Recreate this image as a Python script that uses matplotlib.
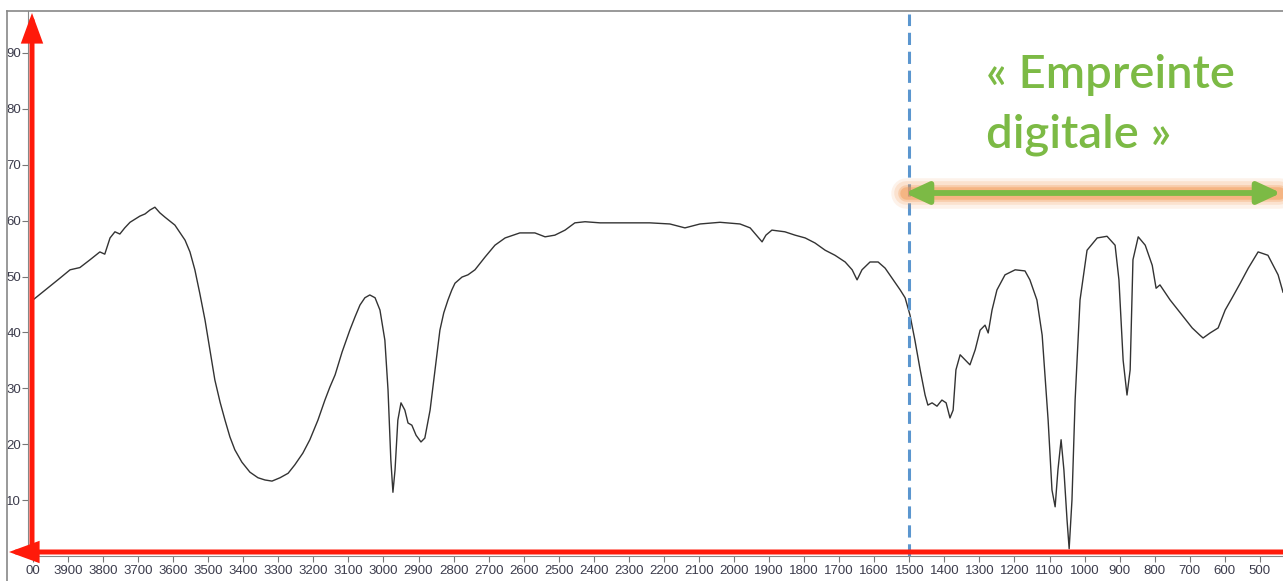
import matplotlib.pyplot as plt
from matplotlib.lines import Line2D
from matplotlib.patches import FancyArrowPatch

# --- Données du spectre IR (nombre d'onde en cm-1, transmittance en %) ---
nombre_onde = [4000, 3923, 3894, 3866, 3837, 3809, 3795, 3780, 3766, 3752, 3738, 3723,
               3695, 3680, 3666, 3652, 3638, 3623, 3595, 3566, 3552, 3538, 3524, 3509,
               3495, 3481, 3466, 3452, 3438, 3424, 3404, 3381, 3358, 3338, 3318, 3295,
               3272, 3253, 3230, 3210, 3187, 3167, 3153, 3138, 3118, 3096, 3081, 3067,
               3053, 3039, 3024, 3010, 2996, 2987, 2979, 2973, 2967, 2959, 2950, 2939,
               2930, 2919, 2907, 2893, 2882, 2867, 2853, 2839, 2828, 2816, 2805, 2796,
               2776, 2759, 2739, 2710, 2682, 2653, 2611, 2568, 2539, 2511, 2482, 2454,
               2425, 2382, 2325, 2240, 2183, 2140, 2097, 2040, 1983, 1954, 1932, 1920,
               1909, 1892, 1855, 1826, 1797, 1769, 1740, 1712, 1683, 1663, 1649, 1635,
               1612, 1589, 1569, 1546, 1526, 1512, 1498, 1484, 1469, 1455, 1447, 1435,
               1421, 1407, 1395, 1384, 1375, 1367, 1355, 1341, 1327, 1312, 1298, 1284,
               1275, 1264, 1250, 1227, 1198, 1170, 1156, 1136, 1121, 1104, 1093, 1084,
               1076, 1067, 1059, 1050, 1044, 1036, 1027, 1013, 993, 964, 936, 913, 902,
               890, 879, 870, 862, 847, 827, 807, 796, 785, 756, 727, 693, 671, 662, 642,
               619, 599, 579, 556, 533, 505, 477, 448, 434]
transmittance = [45.8, 49.7, 51.2, 51.6, 53.0, 54.4, 54.0, 56.9, 58.0, 57.6, 58.7, 59.7,
                 60.8, 61.2, 61.9, 62.4, 61.4, 60.6, 59.2, 56.5, 54.4, 51.2, 47.0, 42.2,
                 36.9, 31.5, 27.5, 24.3, 21.3, 19.0, 16.8, 15.0, 14.0, 13.6, 13.4, 14.0,
                 14.8, 16.3, 18.4, 20.8, 24.3, 27.9, 30.2, 32.4, 36.5, 40.4, 42.8, 44.9,
                 46.2, 46.7, 46.2, 44.0, 38.6, 29.7, 17.2, 11.4, 15.4, 24.3, 27.4, 26.1,
                 23.8, 23.4, 21.6, 20.4, 21.1, 26.1, 33.3, 40.4, 43.5, 45.8, 47.6, 48.8,
                 49.9, 50.3, 51.2, 53.5, 55.6, 56.9, 57.8, 57.8, 57.1, 57.4, 58.3, 59.6,
                 59.8, 59.6, 59.6, 59.6, 59.4, 58.7, 59.4, 59.7, 59.4, 58.7, 57.1, 56.2,
                 57.4, 58.3, 58.0, 57.4, 56.9, 56.0, 54.7, 53.8, 52.6, 51.2, 49.4, 51.2,
                 52.6, 52.6, 51.5, 49.4, 47.6, 46.2, 43.1, 38.6, 33.3, 28.8, 27.0, 27.4,
                 26.8, 27.9, 27.4, 24.7, 26.1, 33.3, 36.0, 35.1, 34.2, 36.9, 40.4, 41.3,
                 39.9, 44.0, 47.6, 50.3, 51.2, 51.0, 49.4, 45.8, 39.5, 24.3, 11.8, 8.8,
                 15.4, 20.8, 15.4, 6.4, 1.3, 10.0, 27.9, 45.8, 54.7, 56.9, 57.2, 55.6,
                 49.4, 35.0, 28.8, 33.3, 53.0, 57.1, 55.6, 52.0, 47.9, 48.5, 45.8, 43.5,
                 40.8, 39.5, 39.0, 39.9, 40.8, 44.0, 46.2, 48.8, 51.5, 54.4, 53.8, 50.3,
                 47.2]

graduations_x = list(range(4000, 400, -100))
etiquettes_x = ['00'] + [str(v) for v in graduations_x[1:]]
graduations_y = [10, 20, 30, 40, 50, 60, 70, 80, 90]
limite_empreinte = 1500

W, H = 1283, 581

def fx(px):
    return px / W

def fy(py):
    return 1 - py / H

fig = plt.figure(figsize=(W / 100, H / 100), dpi=100)
fig.patch.set_facecolor('white')

# cadre gris de la fenetre
fig.add_artist(Line2D([fx(7), fx(7)], [fy(11), 0], color='#888888', lw=1.2))
fig.add_artist(Line2D([fx(7), 1], [fy(11), fy(11)], color='#888888', lw=1.2))

ax = fig.add_axes([fx(28), fy(556), fx(W) - fx(28), fy(11) - fy(556)])
ax.plot(nombre_onde, transmittance, color='#333333', lw=1.0)
ax.set_xlim(4014, 434)
ax.set_ylim(0, 97.5)

ax.set_xticks(graduations_x)
ax.set_xticklabels(etiquettes_x)
ax.set_yticks(graduations_y)
ax.tick_params(axis='both', direction='out', color='#777777', labelcolor='#3c3c4c',
               labelsize=9.5, length=4.5, width=0.8)
ax.tick_params(axis='x', pad=2)
ax.tick_params(axis='y', pad=1, length=4)
for lab in ax.get_xticklabels() + ax.get_yticklabels():
    lab.set_family('Liberation Sans')
for s in ['right', 'top']:
    ax.spines[s].set_visible(False)
ax.spines['left'].set_color('#888888')
ax.spines['bottom'].set_color('#888888')

# ligne pointillee a 1500 cm-1
ax.axvline(limite_empreinte, color='#5b96cf', lw=2.2, ls=(0, (4, 2.2)), ymin=0, ymax=0.995)

# axes rouges avec fleches
fleche = dict(arrowstyle='-|>,head_length=1.5,head_width=0.55', color='#ff1a0a',
              lw=3.6, shrinkA=0, shrinkB=0, mutation_scale=10, joinstyle='miter')
ax.annotate('', xy=(fx(9), fy(552)), xytext=(1.0, fy(552)),
            xycoords='figure fraction', textcoords='figure fraction', arrowprops=fleche)
ax.annotate('', xy=(fx(32), fy(13)), xytext=(fx(32), fy(552)),
            xycoords='figure fraction', textcoords='figure fraction', arrowprops=fleche)

# fleche verte double avec halo orange
for lw, a in [(22, 0.12), (17, 0.18), (12, 0.3), (9, 0.45)]:
    fig.add_artist(Line2D([fx(906), fx(1279)], [fy(193), fy(193)], color='#f39a55',
                          lw=lw, alpha=a, solid_capstyle='round', zorder=5))
verte = FancyArrowPatch((fx(1281), fy(193)), (fx(905), fy(193)),
                        transform=fig.transFigure,
                        arrowstyle='<|-|>,head_length=1.4,head_width=0.65',
                        color='#7cba45', lw=4.2, shrinkA=0, shrinkB=0,
                        mutation_scale=10, zorder=6)
fig.add_artist(verte)

fig.text(fx(986), fy(88), '\u00ab Empreinte', color='#7cba45', fontsize=34,
         family='Lato', fontweight='semibold', va='baseline', ha='left')
fig.text(fx(986), fy(148), 'digitale \u00bb', color='#7cba45', fontsize=34,
         family='Lato', fontweight='semibold', va='baseline', ha='left')

fig.savefig('out.png', dpi=100)
